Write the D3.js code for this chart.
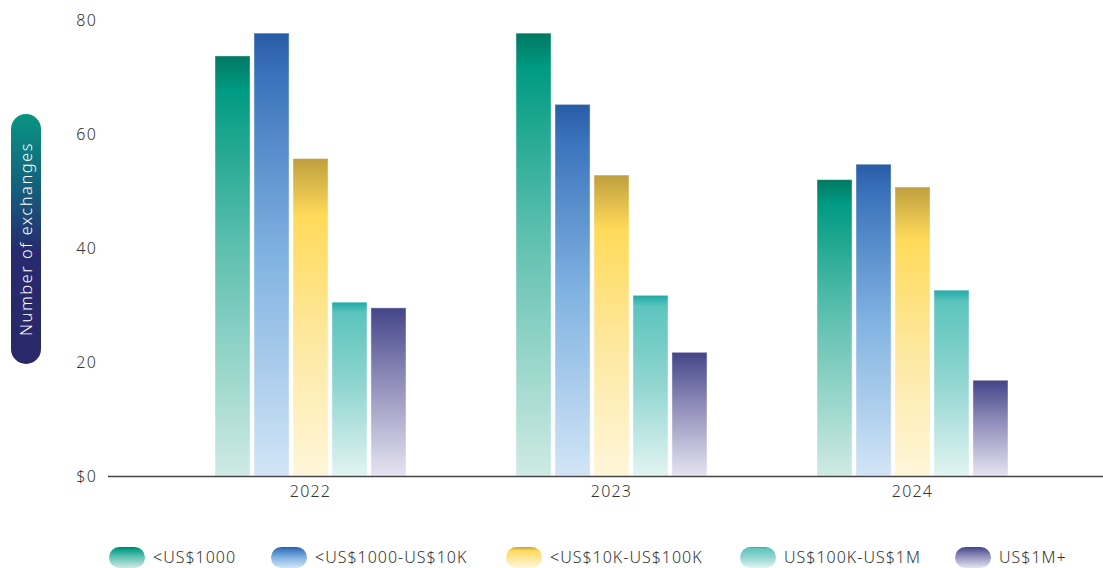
<!DOCTYPE html>
<html><head><meta charset="utf-8">
<script src="https://cdn.jsdelivr.net/npm/d3@7"></script>
<style>
html,body{margin:0;padding:0;background:#fff;}
svg{display:block;font-family:"Noto Sans",sans-serif;}
</style></head>
<body><svg id="c" width="1103" height="568"></svg>
<script>
const years = ["2022","2023","2024"];
const seriesNames = ["<US$1000","<US$1000-US$10K","<US$10K-US$100K","US$100K-US$1M","US$1M+"];
const valsLt1k = [73.7, 77.7, 52.0];
const vals1kTo10k = [77.7, 65.2, 54.7];
const vals10kTo100k = [55.7, 52.8, 50.7];
const vals100kTo1m = [30.5, 31.7, 32.6];
const vals1mPlus = [29.5, 21.7, 16.8];
const yTicks = [0, 20, 40, 60, 80];
const yTickLabels = ["$0", "20", "40", "60", "80"];
const yLabel = "Number of exchanges";

const allSeries = [valsLt1k, vals1kTo10k, vals10kTo100k, vals100kTo1m, vals1mPlus];
const gradStops = [
  [[0,"#007862"],[0.08,"#009a82"],[0.45,"#5cbfae"],[1,"#cfeae4"]],
  [[0,"#275ca6"],[0.1,"#3b74bc"],[0.5,"#80b2e1"],[1,"#d2e5f6"]],
  [[0,"#bf9f3e"],[0.18,"#ffda5a"],[0.6,"#fde9a4"],[1,"#fff6da"]],
  [[0,"#20aaa6"],[0.06,"#5cc4bd"],[0.5,"#93d6d1"],[1,"#e2f4f2"]],
  [[0,"#434588"],[0.4,"#8a88b6"],[1,"#e6e4f0"]]
];

const svg = d3.select("#c");
const defs = svg.append("defs");
gradStops.forEach((stops, i) => {
  const g = defs.append("linearGradient").attr("id","g"+i).attr("x1",0).attr("y1",0).attr("x2",0).attr("y2",1);
  stops.forEach(s => g.append("stop").attr("offset", s[0]).attr("stop-color", s[1]));
});
const pg = defs.append("linearGradient").attr("id","pill").attr("x1",0).attr("y1",0).attr("x2",0).attr("y2",1);
[[0,"#0a9482"],[0.3,"#135f7c"],[0.55,"#272a6e"],[1,"#2a2868"]].forEach(s=>pg.append("stop").attr("offset",s[0]).attr("stop-color",s[1]));

const y = d3.scaleLinear().domain([0,80]).range([476,20]);
const x0 = d3.scaleBand().domain(years).range([160,1063]).padding(0);
const x1 = d3.scaleBand().domain(d3.range(5)).range([0,191]).paddingInner(0.1);

// y axis ticks (labels only)
const yAxis = d3.axisLeft(y).tickValues(yTicks).tickFormat((d,i)=>yTickLabels[i]).tickSize(0).tickPadding(0);
const ya = svg.append("g").attr("transform","translate(97,0)").call(yAxis);
ya.select(".domain").remove();
ya.selectAll("text").attr("font-size",16).attr("fill","#333").attr("font-family","Noto Sans, sans-serif").attr("font-weight",300).attr("letter-spacing",1.2);

// bars
years.forEach((yr, yi) => {
  const g = svg.append("g").attr("transform",`translate(${x0(yr)+x0.bandwidth()/2-95.5},0)`);
  allSeries.forEach((arr, si) => {
    g.append("rect")
      .attr("x", x1(si)).attr("width", x1.bandwidth())
      .attr("y", y(arr[yi])).attr("height", y(0)-y(arr[yi]))
      .attr("fill", `url(#g${si})`)
      .attr("stroke","rgba(255,255,255,0.45)").attr("stroke-width",1);
  });
});

// x axis
svg.append("line").attr("x1",108).attr("x2",1103).attr("y1",476.5).attr("y2",476.5).attr("stroke","#444").attr("stroke-width",1.3);
const xAxis = d3.axisBottom(x0).tickSize(0).tickPadding(0);
const xa = svg.append("g").attr("transform","translate(0,486)").call(xAxis);
xa.select(".domain").remove();
xa.selectAll("text").attr("font-size",16).attr("fill","#333").attr("font-family","Noto Sans, sans-serif").attr("font-weight",300).attr("dy","0.71em").attr("letter-spacing",1.2);

// y label pill
svg.append("rect").attr("x",11).attr("y",114).attr("width",30).attr("height",250).attr("rx",15).attr("fill","url(#pill)");
svg.append("text").attr("transform","translate(26,239) rotate(-90)").attr("text-anchor","middle").attr("dy","0.35em")
  .attr("fill","#fff").attr("font-size",16.5).attr("font-weight",300).attr("letter-spacing",1.5).text(yLabel);

// legend
const legX = [109, 271, 506, 740, 955];
seriesNames.forEach((n,i)=>{
  const g = svg.append("g").attr("transform",`translate(${legX[i]},547)`);
  g.append("rect").attr("width",36).attr("height",21).attr("rx",10.5).attr("fill",`url(#g${i})`);
  g.append("text").attr("x",44).attr("y",10.5).attr("dy","0.35em").attr("font-size",16).attr("fill","#333").attr("font-weight",300).attr("letter-spacing",1).text(n);
});
</script></body></html>
